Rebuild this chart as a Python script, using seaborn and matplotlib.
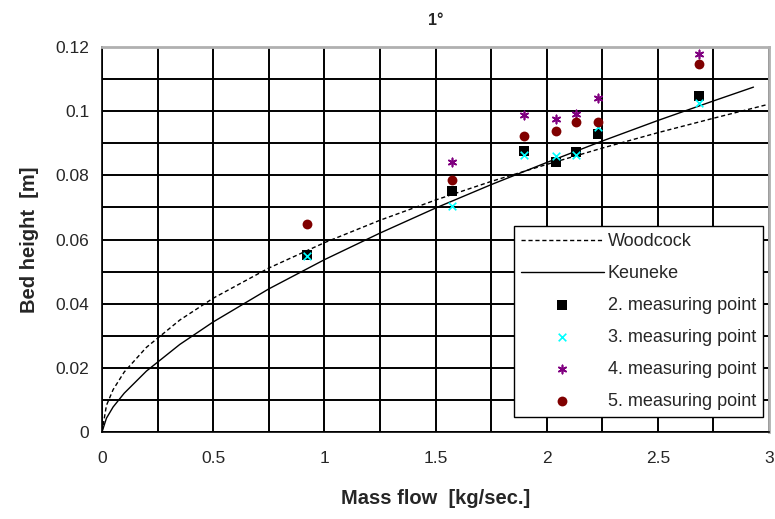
import matplotlib
matplotlib.use("Agg")
import matplotlib.pyplot as plt
import numpy as np
import pandas as pd
import seaborn as sns
from matplotlib.ticker import FuncFormatter, MultipleLocator

# measured bed heights at the sampled mass flows
mass_flow = [0.92, 1.574, 1.898, 2.042, 2.132, 2.231, 2.686]
point_2 = [0.0552, 0.0751, 0.0876, 0.0842, 0.0873, 0.0930, 0.1047]
point_3 = [0.0548, 0.0704, 0.0863, 0.0860, 0.0864, 0.0950, 0.1026]
point_4 = [np.nan, 0.0842, 0.0988, 0.0976, 0.0991, 0.1040, 0.1178]
point_5 = [0.0648, 0.0786, 0.0923, 0.0938, 0.0966, 0.0966, 0.1147]

# model curves
woodcock_x = [0, 0.02, 0.05, 0.1, 0.2, 0.35, 0.5, 0.75, 1.0, 1.25, 1.5, 1.75, 2.0, 2.25, 2.5, 2.75, 3.0]
woodcock_y = [0, 0.0083, 0.0132, 0.0187, 0.0264, 0.0349, 0.0417, 0.0511, 0.0590, 0.0660,
              0.0723, 0.0781, 0.0834, 0.0885, 0.0933, 0.0978, 0.1022]
keuneke_x = [0, 0.02, 0.05, 0.1, 0.2, 0.35, 0.5, 0.75, 1.0, 1.25, 1.5, 1.75, 2.0, 2.25, 2.5, 2.75, 2.93]
keuneke_y = [0, 0.0043, 0.0078, 0.0121, 0.0190, 0.0273, 0.0343, 0.0446, 0.0537, 0.0620,
             0.0698, 0.0771, 0.0840, 0.0907, 0.0971, 0.1032, 0.1075]

series_names = ["2. measuring point", "3. measuring point", "4. measuring point", "5. measuring point"]

curves = pd.concat([
    pd.DataFrame({"x": woodcock_x, "y": woodcock_y, "model": "Woodcock"}),
    pd.DataFrame({"x": keuneke_x, "y": keuneke_y, "model": "Keuneke"}),
])
points = pd.concat([
    pd.DataFrame({"x": mass_flow, "y": vals, "series": name})
    for name, vals in zip(series_names, [point_2, point_3, point_4, point_5])
]).dropna()

sns.set_style("white")
plt.rcParams["font.family"] = ["Liberation Sans", "DejaVu Sans"]

fig = plt.figure(figsize=(7.75, 5.19), dpi=100)
ax = fig.add_axes([0.1316, 0.1676, 0.8607, 0.7418])

sns.lineplot(data=curves, x="x", y="y", style="model", color="black",
             dashes={"Woodcock": (3, 2), "Keuneke": ""}, linewidth=1.0,
             sort=False, estimator=None, ax=ax)

markers = {"2. measuring point": "s", "3. measuring point": "x",
           "4. measuring point": (6, 2, 0), "5. measuring point": "o"}
palette = {"2. measuring point": "black", "3. measuring point": "#00FFFF",
           "4. measuring point": "#800080", "5. measuring point": "#800000"}
sizes = {"2. measuring point": 45, "3. measuring point": 30,
         "4. measuring point": 35, "5. measuring point": 50}
for name in series_names:
    sub = points[points["series"] == name]
    sns.scatterplot(data=sub, x="x", y="y", marker=markers[name], color=palette[name],
                    s=sizes[name], linewidth=1.2 if name in ("3. measuring point", "4. measuring point") else 0,
                    edgecolor=palette[name], label=name, ax=ax, zorder=5)

ax.set_xlim(0, 3)
ax.set_ylim(0, 0.12)
ax.xaxis.set_major_locator(MultipleLocator(0.5))
ax.xaxis.set_minor_locator(MultipleLocator(0.25))
ax.yaxis.set_major_locator(MultipleLocator(0.02))
ax.yaxis.set_minor_locator(MultipleLocator(0.01))
fmt = FuncFormatter(lambda v, p: f"{v:g}")
ax.xaxis.set_major_formatter(fmt)
ax.yaxis.set_major_formatter(fmt)
ax.grid(True, which="both", color="black", linewidth=1.4)
ax.set_axisbelow(True)
ax.tick_params(which="major", direction="inout", length=8, width=1.2, labelsize=12.5,
               color="black", pad=10)
ax.tick_params(axis="y", which="major", pad=5)
ax.tick_params(which="minor", length=0)
for side in ["left", "bottom"]:
    ax.spines[side].set_color("black")
    ax.spines[side].set_linewidth(1.2)
for side in ["top", "right"]:
    ax.spines[side].set_color("#b0b0b0")
    ax.spines[side].set_linewidth(2)

ax.set_title("1°", fontsize=11.5, fontweight="bold", pad=16)
ax.set_xlabel("Mass flow  [kg/sec.]", fontsize=14.5, fontweight="bold", labelpad=16)
ax.set_ylabel("Bed height  [m]", fontsize=14.5, fontweight="bold", labelpad=12)

handles, labels = ax.get_legend_handles_labels()
order = ["Woodcock", "Keuneke"] + series_names
hmap = dict(zip(labels, handles))
leg = ax.legend([hmap[l] for l in order], order, loc="lower right",
                bbox_to_anchor=(0.991, 0.039), fontsize=13, frameon=True,
                fancybox=False, framealpha=1, edgecolor="black",
                handlelength=4.6, labelspacing=0.83, borderpad=0.4,
                handletextpad=0.2, borderaxespad=0)
leg.get_frame().set_linewidth(1.0)

fig.savefig("out.png", dpi=100)
